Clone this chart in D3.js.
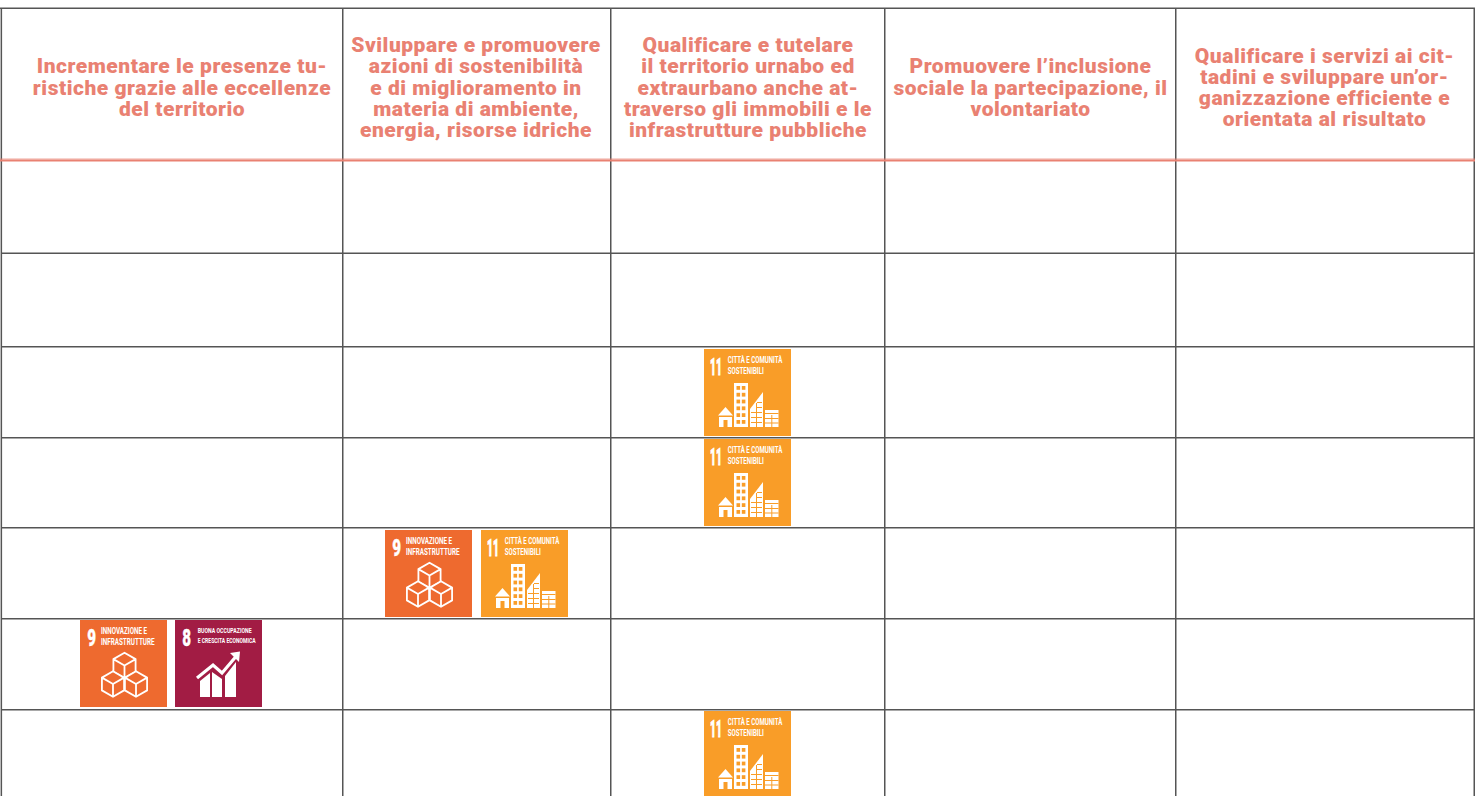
<!DOCTYPE html>
<html>
<head>
<meta charset="utf-8">
<script src="https://cdnjs.cloudflare.com/ajax/libs/d3/7.8.5/d3.min.js"></script>
<style>
    html, body { margin: 0; padding: 0; background: #fff; overflow: hidden; }
    svg { display: block; }
    text { font-family: Roboto, sans-serif; }
</style>
</head>
<body>
<svg id="chart" width="1482" height="796"></svg>
<script>
// column headings, one entry per printed line
var headings = [
    ['Incrementare le presenze tu-', 'ristiche grazie alle eccellenze', 'del territorio'],
    ['Sviluppare e promuovere', 'azioni di sostenibilità', 'e di miglioramento in', 'materia di ambiente,', 'energia, risorse idriche'],
    ['Qualificare e tutelare', 'il territorio urnabo ed', 'extraurbano anche at-', 'traverso gli immobili e le', 'infrastrutture pubbliche'],
    ['Promuovere l’inclusione', 'sociale la partecipazione, il', 'volontariato'],
    ['Qualificare i servizi ai cit-', 'tadini e sviluppare un’or-', 'ganizzazione efficiente e', 'orientata al risultato']
];
var columns = [0, 1, 2, 3, 4];
var rows = [0, 1, 2, 3, 4, 5, 6];

// goal badges per table row: [row, column, goals]
var rowGoals = [
    [2, 2, [11]],
    [3, 2, [11]],
    [4, 1, [9, 11]],
    [5, 0, [9, 8]],
    [6, 2, [11]]
];
var goalNumbers = [8, 9, 11];
var goalLabels = [
    ['BUONA OCCUPAZIONE', 'E CRESCITA ECONOMICA'],
    ['INNOVAZIONE E', 'INFRASTRUTTURE'],
    ['CITTÀ E COMUNITÀ', 'SOSTENIBILI']
];

// layout
var colLines = [0.6, 342, 610, 884, 1175, 1473.5],
    rowLines = [160, 252.5, 346, 437, 527, 618, 709],
    colCenters = [182, 476, 748, 1030.5, 1324.5],
    badgeLefts = [80, 385, 704],
    badgeGaps = [8, 9, 0],
    badgeTops = [0, 0, 349, 439, 530, 620, 711],
    topLine = 8,
    salmon = '#e98172',
    gridColor = '#555',
    badgeSize = 87;

var x = d3.scaleOrdinal().domain(columns).range(colCenters);
var badgeY = d3.scaleOrdinal().domain(rows).range(badgeTops);
var goalColor = d3.scaleOrdinal().domain(goalNumbers).range(['#a21c44', '#ee6a2f', '#f99d28']);
var goalLabel = d3.scaleOrdinal().domain(goalNumbers).range(goalLabels);

var svg = d3.select('#chart');

// grid
svg.append('g').selectAll('line').data(colLines).enter().append('line')
    .attr('x1', function (d) { return d + 0.75; })
    .attr('x2', function (d) { return d + 0.75; })
    .attr('y1', topLine)
    .attr('y2', 796)
    .attr('stroke', gridColor)
    .attr('stroke-width', 1.5);

svg.append('line')
    .attr('x1', 0).attr('x2', 1475)
    .attr('y1', topLine + 0.25).attr('y2', topLine + 0.25)
    .attr('stroke', gridColor)
    .attr('stroke-width', 1.5);

svg.append('g').selectAll('line').data(rowLines.slice(1)).enter().append('line')
    .attr('x1', 1).attr('x2', 1475)
    .attr('y1', function (d) { return d + 0.75; })
    .attr('y2', function (d) { return d + 0.75; })
    .attr('stroke', gridColor)
    .attr('stroke-width', 1.5);

// header rule, with the pale edge it has in the reference
svg.append('line')
    .attr('x1', 0).attr('x2', 1475)
    .attr('y1', rowLines[0] - 1).attr('y2', rowLines[0] - 1)
    .attr('stroke', salmon).attr('stroke-opacity', 0.35).attr('stroke-width', 2);
svg.append('line')
    .attr('x1', 0).attr('x2', 1475)
    .attr('y1', rowLines[0] + 0.5).attr('y2', rowLines[0] + 0.5)
    .attr('stroke', salmon).attr('stroke-width', 2);

// headings, vertically centred in the header row
var lineHeight = 21.3, headerMiddle = 90.5;
var headingGroups = svg.append('g').selectAll('text').data(headings).enter().append('text')
    .attr('text-anchor', 'middle')
    .attr('fill', salmon)
    .attr('font-size', 21)
    .attr('font-weight', 900)
    .style('letter-spacing', '0.52px');

headingGroups.selectAll('tspan')
    .data(function (d, i) {
        return d.map(function (t, j) {
            return { text: t, col: i, line: j, count: d.length };
        });
    })
    .enter().append('tspan')
    .attr('x', function (d) { return x(d.col); })
    .attr('y', function (d) {
        return headerMiddle + (d.line - (d.count - 1) / 2) * lineHeight + 4;
    })
    .text(function (d) { return d.text; });

// badge pictograms, in a 87 unit box
function hexPath(cx, cy, r) {
    var dx = r * 0.866, dy = r / 2;
    return 'M' + cx + ',' + (cy - r) + 'L' + (cx + dx) + ',' + (cy - dy) + 'L' + (cx + dx) + ',' + (cy + dy) +
        'L' + cx + ',' + (cy + r) + 'L' + (cx - dx) + ',' + (cy + dy) + 'L' + (cx - dx) + ',' + (cy - dy) + 'Z' +
        'M' + (cx - dx) + ',' + (cy - dy) + 'L' + cx + ',' + cy + 'L' + (cx + dx) + ',' + (cy - dy) +
        'M' + cx + ',' + cy + 'L' + cx + ',' + (cy + r);
}

function drawCubes(g, color) {
    g.selectAll('path.cube').data([[44.5, 45.5], [33, 64], [56, 64]]).enter().append('path')
        .attr('class', 'cube')
        .attr('d', function (d) { return hexPath(d[0], d[1], 12.8); })
        .attr('fill', color)
        .attr('stroke', '#fff')
        .attr('stroke-width', 1.8)
        .attr('stroke-linejoin', 'round');
}

function drawCity(g, color) {
    var rect = function (px, py, w, h, fill) {
        g.append('rect').attr('x', px).attr('y', py).attr('width', w).attr('height', h).attr('fill', fill);
    };
    // house
    g.append('path').attr('fill', '#fff').attr('d', 'M14,66.5L21.5,58L29,66.5Z');
    rect(15, 68, 13, 10, '#fff');
    rect(19.5, 71, 4, 7, color);
    // tower
    rect(30, 34, 14, 44, '#fff');
    d3.range(6).forEach(function (r) {
        rect(32.5, 37 + r * 6.8, 3.6, 3.8, color);
        rect(37.8, 37 + r * 6.8, 3.6, 3.8, color);
    });
    // slanted block
    g.append('path').attr('fill', '#fff').attr('d', 'M46,60L59,43L59,78L46,78Z');
    g.append('path').attr('fill', 'none').attr('stroke', color).attr('stroke-width', 1)
        .attr('d', 'M52.5,54V78M47,63.5H58M47,68.5H58M47,73.5H58M53,58.5H58M53,53.5H58');
    // low block
    rect(61, 61, 13.5, 17, '#fff');
    g.append('path').attr('fill', 'none').attr('stroke', color).attr('stroke-width', 1)
        .attr('d', 'M61,64.5H74.5M67.8,66V78M61,69.5H74.5M61,74H74.5');
}

function drawGrowth(g, color) {
    g.append('path').attr('fill', '#fff').attr('d', 'M25,61L35,53V77H25Z');
    g.append('path').attr('fill', '#fff').attr('d', 'M37,52L47,59V77H37Z');
    g.append('path').attr('fill', '#fff').attr('d', 'M50,56L61,42V77H50Z');
    g.append('path').attr('fill', 'none').attr('stroke', '#fff').attr('stroke-width', 3.2)
        .attr('d', 'M22,58L38,45L47,53L61,36.5');
    g.append('path').attr('fill', '#fff').attr('d', 'M55,33L65,31.5L64,42Z');
}

var pictogram = { 8: drawGrowth, 9: drawCubes, 11: drawCity };

// condensed badge text: squeeze the real glyphs to the width they have in the reference
function fitText(g, t, px, py, width, size, weight, stroke) {
    var node = g.append('text')
        .attr('fill', '#fff')
        .attr('stroke', stroke ? '#fff' : 'none')
        .attr('stroke-width', stroke || 0)
        .attr('font-size', size)
        .attr('font-weight', weight)
        .text(t);
    var sx = width / node.node().getComputedTextLength();
    node.attr('transform', 'translate(' + px + ',' + py + ') scale(' + sx + ',1)');
}

// flatten rows -> one record per badge
var badges = [];
rowGoals.forEach(function (r) {
    r[2].forEach(function (goal, i) {
        badges.push({ row: r[0], col: r[1], goal: goal, pos: i });
    });
});

var badge = svg.append('g').selectAll('g').data(badges).enter().append('g')
    .attr('transform', function (d) {
        return 'translate(' + (badgeLefts[d.col] + d.pos * (badgeSize + badgeGaps[d.col])) + ',' + badgeY(d.row) + ')';
    });

badge.append('rect')
    .attr('width', badgeSize)
    .attr('height', badgeSize)
    .attr('fill', function (d) { return goalColor(d.goal); });

badge.each(function (d) {
    var g = d3.select(this), lines = goalLabel(d.goal);
    var lengths = { 8: [54, 58], 9: [46, 53.5], 11: [54.5, 36] }[d.goal];
    var labelX = { 8: 22.7, 9: 21, 11: 23.7 }[d.goal];
    var baselines = d.goal === 8 ? [12.5, 22.5] : [14, 24.5];

    fitText(g, String(d.goal), d.goal === 11 ? 6 : 7.3, 25.5, d.goal === 11 ? 11.8 : 8.8, 24, 900, d.goal === 11 ? 0.9 : 0.4);
    lines.forEach(function (t, i) {
        fitText(g, t, labelX, baselines[i], lengths[i], d.goal === 8 ? 7 : 8.4, 700);
    });
    pictogram[d.goal](g, goalColor(d.goal));
});
</script>
</body>
</html>
